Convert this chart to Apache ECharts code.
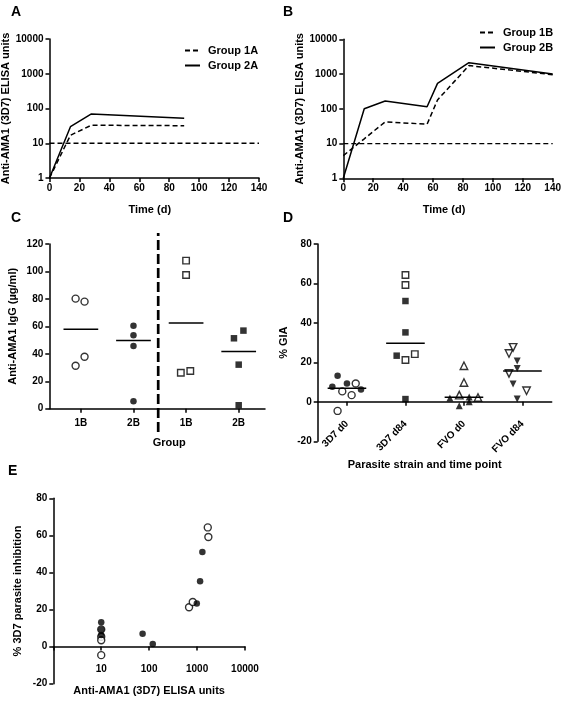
<!DOCTYPE html>
<html><head><meta charset="utf-8">
<script src="https://cdn.jsdelivr.net/npm/echarts@6/dist/echarts.min.js"></script>
<style>html,body{margin:0;padding:0;background:#fff}#c{width:563px;height:702px}</style>
</head><body><div id="c"></div>
<script>
// ---------- Panel A ----------
const daysA = [0, 14, 28, 90];
const group1A = [1, 17, 33, 32];
const group2A = [1, 30, 70, 52];
// ---------- Panel B ----------
const daysB = [0, 14, 28, 56, 63, 84, 140];
const group1B = [4.5, 13.7, 42, 36, 180, 1750, 960];
const group2B = [1, 100, 167, 115, 540, 2130, 1000];
const cutoffDays = [0, 140];
const cutoffValue = 10;
const timeTicks = [0, 20, 40, 60, 80, 100, 120, 140];
// ---------- Panel C ----------
const groupsC = ['1B', '2B', '1B', '2B'];
const c1Bcircle = [80.2, 78, 31.3, 37.9];
const c1BcircleJit = [-0.1, 0.07, -0.1, 0.07];
const c2Bcircle = [60.5, 53.5, 45.7, 5.4];
const c2BcircleJit = [0, 0, 0, 0];
const c1Bsquare = [107.9, 97.4, 26.2, 27.5];
const c1BsquareJit = [0, 0, -0.1, 0.08];
const c2Bsquare = [51.3, 56.9, 32.1, 2.5];
const c2BsquareJit = [-0.09, 0.09, 0, 0];
const separatorC = 1.47;
// ---------- Panel D ----------
const strainsD = ['3D7 d0', '3D7 d84', 'FVO d0', 'FVO d84'];
const d3D7d0Open = [5.3, 9.3, 3.4, -4.6];
const d3D7d0OpenJit = [-0.08, 0.15, 0.08, -0.16];
const d3D7d0Filled = [13.2, 9.3, 7.6, 6.3];
const d3D7d0FilledJit = [-0.16, 0, -0.25, 0.24];
const d3D7d84Open = [64.3, 59.2, 21.2, 24.2];
const d3D7d84OpenJit = [0, 0, 0, 0.16];
const d3D7d84Filled = [51.1, 35.2, 23.4, 1.4];
const d3D7d84FilledJit = [0, 0, -0.15, 0];
const dFVOd0Open = [18.3, 9.8, 3.4, 2.2];
const dFVOd0OpenJit = [0, 0, -0.08, 0.24];
const dFVOd0Filled = [2.0, -2.0, 2.5, 0];
const dFVOd0FilledJit = [-0.24, -0.08, 0.09, 0.09];
const dFVOd84Open = [24.5, 27.6, 14.4, 5.6];
const dFVOd84OpenJit = [-0.23, -0.16, -0.23, 0.07];
const dFVOd84Filled = [20.7, 16.9, 9.0, 1.4];
const dFVOd84FilledJit = [-0.09, -0.09, -0.16, -0.09];
// ---------- Panel E ----------
const eOpenX = [10, 10, 10, 10, 680, 813, 1672, 1720];
const eOpenY = [5.3, 9.3, 3.4, -4.6, 21.2, 24.1, 64.3, 59.1];
const eFilledX = [10, 10, 10, 73, 986, 1155, 1290, 119];
const eFilledY = [13.2, 9.3, 6.3, 7.0, 23.2, 35.2, 51.0, 1.4];
const eTicks = [10, 100, 1000, 10000];

const FONT = '"Liberation Sans", Arial, Helvetica, sans-serif';
const BLACK = '#000';
const zip = (xs, ys) => xs.map((x, i) => [x, ys[i]]);
const median = a => { const s = a.slice().sort((p, q) => p - q); const n = s.length; return n % 2 ? s[(n - 1) / 2] : (s[n / 2 - 1] + s[n / 2]) / 2; };
const jitter = (pos, vals, jit) => vals.map((v, i) => [pos + jit[i], v]);

function axis(extra) {
  const base = {
    axisLine: { show: true, onZero: false, lineStyle: { color: BLACK, width: 1.5 } },
    axisTick: { show: true, inside: false, length: 4, lineStyle: { color: BLACK, width: 1.5 } },
    axisLabel: { color: BLACK, fontSize: 10, fontWeight: 'bold', fontFamily: FONT, margin: 6 },
    splitLine: { show: false },
    nameLocation: 'middle',
    nameTextStyle: { color: BLACK, fontSize: 11, fontWeight: 'bold', fontFamily: FONT }
  };
  const out = Object.assign({}, base, extra);
  ['axisLine', 'axisTick', 'axisLabel', 'nameTextStyle'].forEach(k => {
    if (extra[k]) out[k] = Object.assign({}, base[k], extra[k]);
  });
  return out;
}

const openStyle = { color: '#fff', borderColor: BLACK, borderWidth: 1.4 };
const filledStyle = { color: BLACK, borderColor: BLACK, borderWidth: 0 };
function scatter(name, xi, data, symbol, open, size, rotate) {
  return { type: 'scatter', name, xAxisIndex: xi, yAxisIndex: xi, data, symbol,
    symbolSize: size, symbolRotate: rotate || 0,
    itemStyle: open ? openStyle : filledStyle, silent: true, z: open ? 3 : 4 };
}
function medLine(xi, pos, vals) {
  const m = median(vals);
  return { type: 'line', xAxisIndex: xi, yAxisIndex: xi, data: [[pos - 0.33, m], [pos + 0.33, m]],
    symbol: 'none', color: BLACK, lineStyle: { color: BLACK, width: 1.5 }, silent: true, z: 5 };
}
function line(name, xi, data, dashed, w) {
  return { type: 'line', name, xAxisIndex: xi, yAxisIndex: xi, data, symbol: 'none', silent: true,
    color: BLACK, itemStyle: { color: BLACK },
    lineStyle: { color: BLACK, width: w || 1.5, type: dashed ? [5, 3] : 'solid' }, z: 2 };
}

const letter = (t, l, tp) => ({ text: t, left: l, top: tp, padding: 0,
  textStyle: { fontSize: 14, fontWeight: 'bold', fontFamily: FONT, color: BLACK } });

const logFmt = v => String(Math.round(v));
const legendCommon = { orient: 'vertical', padding: 0, itemWidth: 15, itemHeight: 10, itemGap: 4, itemStyle: { opacity: 0 },
  textStyle: { fontSize: 11, fontWeight: 'bold', fontFamily: FONT, color: BLACK, padding: [0, 0, 0, 3] }, selectedMode: false };

const option = {
  animation: false,
  backgroundColor: '#fff',
  title: [letter('A', 11, 5), letter('B', 283, 5), letter('C', 11, 211), letter('D', 283, 211), letter('E', 8, 464)],
  legend: [
    Object.assign({ data: ['Group 1A', 'Group 2A'], left: 184, top: 45 }, legendCommon),
    Object.assign({ data: ['Group 1B', 'Group 2B'], left: 479, top: 27 }, legendCommon)
  ],
  grid: [
    { left: 49.5, top: 39, width: 209.5, height: 139, outerBoundsMode: 'none', containLabel: false },
    { left: 343.3, top: 39.3, width: 209.4, height: 139, outerBoundsMode: 'none', containLabel: false },
    { left: 49.3, top: 244, width: 215.7, height: 164.7, outerBoundsMode: 'none', containLabel: false },
    { left: 317.7, top: 244, width: 234, height: 197.3, outerBoundsMode: 'none', containLabel: false },
    { left: 53.3, top: 498.3, width: 191.7, height: 185.4, outerBoundsMode: 'none', containLabel: false }
  ],
  xAxis: [
    axis({ gridIndex: 0, type: 'value', min: timeTicks[0], max: timeTicks[timeTicks.length - 1], interval: 20,
      name: 'Time (d)', nameGap: 26, nameTextStyle: { padding: [0, 9, 0, 0] }, axisLabel: { margin: 5 } }),
    axis({ gridIndex: 1, type: 'value', min: timeTicks[0], max: timeTicks[timeTicks.length - 1], interval: 20,
      name: 'Time (d)', nameGap: 26, nameTextStyle: { padding: [0, 8, 0, 0] }, axisLabel: { margin: 5 } }),
    axis({ gridIndex: 2, type: 'value', min: -0.6, max: 3.5,
      axisLabel: { customValues: [0, 1, 2, 3], formatter: v => groupsC[Math.round(v)], margin: 10 },
      axisTick: { customValues: [0, 1, 2, 3] },
      name: 'Group', nameGap: 29, nameTextStyle: { padding: [0, 0, 0, 24] } }),
    axis({ gridIndex: 3, type: 'value', min: -0.5, max: 3.5,
      axisLine: { onZero: true },
      axisLabel: { customValues: [0, 1, 2, 3], formatter: v => strainsD[Math.round(v)], rotate: 45, margin: -19 },
      axisTick: { customValues: [0, 1, 2, 3] },
      name: 'Parasite strain and time point', nameGap: 18, nameTextStyle: { padding: [0, 20, 0, 0] } }),
    axis({ gridIndex: 4, type: 'log', logBase: 10, min: 1, max: eTicks[eTicks.length - 1],
      axisLine: { onZero: true },
      axisLabel: { formatter: v => (eTicks.indexOf(Math.round(v)) >= 0 ? String(Math.round(v)) : ''), margin: -19 },
      name: 'Anti-AMA1 (3D7) ELISA units', nameGap: 2 })
  ],
  yAxis: [
    axis({ gridIndex: 0, type: 'log', logBase: 10, min: 1, max: 10000, axisLabel: { formatter: logFmt },
      name: 'Anti-AMA1 (3D7) ELISA units', nameGap: 34 }),
    axis({ gridIndex: 1, type: 'log', logBase: 10, min: 1, max: 10000, axisLabel: { formatter: logFmt },
      name: 'Anti-AMA1 (3D7) ELISA units', nameGap: 33 }),
    axis({ gridIndex: 2, type: 'value', min: 0, max: 120, interval: 20,
      name: 'Anti-AMA1 IgG (µg/ml)', nameGap: 31 }),
    axis({ gridIndex: 3, type: 'value', min: -20, max: 80, interval: 20,
      name: '% GIA', nameGap: 28 }),
    axis({ gridIndex: 4, type: 'value', min: -20, max: 80, interval: 20,
      name: '% 3D7 parasite inhibition', nameGap: 30 })
  ],
  series: [
    line('Group 1A', 0, zip(daysA, group1A), true),
    line('Group 2A', 0, zip(daysA, group2A), false),
    line('cutoffA', 0, cutoffDays.map(d => [d, cutoffValue]), true, 1.3),
    line('Group 1B', 1, zip(daysB, group1B), true),
    line('Group 2B', 1, zip(daysB, group2B), false),
    line('cutoffB', 1, cutoffDays.map(d => [d, cutoffValue]), true, 1.3),
    // C
    scatter('c1Bc', 2, jitter(0, c1Bcircle, c1BcircleJit), 'circle', true, 7),
    scatter('c2Bc', 2, jitter(1, c2Bcircle, c2BcircleJit), 'circle', false, 6.5),
    scatter('c1Bs', 2, jitter(2, c1Bsquare, c1BsquareJit), 'rect', true, 6.5),
    scatter('c2Bs', 2, jitter(3, c2Bsquare, c2BsquareJit), 'rect', false, 6.5),
    medLine(2, 0, c1Bcircle), medLine(2, 1, c2Bcircle), medLine(2, 2, c1Bsquare), medLine(2, 3, c2Bsquare),
    { type: 'line', xAxisIndex: 2, yAxisIndex: 2, clip: false, symbol: 'none', silent: true, color: BLACK,
      data: [[separatorC, -17], [separatorC, 128]], lineStyle: { color: BLACK, width: 2.7, type: [10, 4] } },
    // D
    scatter('d1o', 3, jitter(0, d3D7d0Open, d3D7d0OpenJit), 'circle', true, 7),
    scatter('d1f', 3, jitter(0, d3D7d0Filled, d3D7d0FilledJit), 'circle', false, 6.5),
    scatter('d2o', 3, jitter(1, d3D7d84Open, d3D7d84OpenJit), 'rect', true, 6.5),
    scatter('d2f', 3, jitter(1, d3D7d84Filled, d3D7d84FilledJit), 'rect', false, 6.5),
    scatter('d3o', 3, jitter(2, dFVOd0Open, dFVOd0OpenJit), 'triangle', true, 7.5),
    scatter('d3f', 3, jitter(2, dFVOd0Filled, dFVOd0FilledJit), 'triangle', false, 7),
    scatter('d4o', 3, jitter(3, dFVOd84Open, dFVOd84OpenJit), 'triangle', true, 7.5, 180),
    scatter('d4f', 3, jitter(3, dFVOd84Filled, dFVOd84FilledJit), 'triangle', false, 7, 180),
    medLine(3, 0, d3D7d0Open.concat(d3D7d0Filled)),
    medLine(3, 1, d3D7d84Open.concat(d3D7d84Filled)),
    medLine(3, 2, dFVOd0Open.concat(dFVOd0Filled)),
    medLine(3, 3, dFVOd84Open.concat(dFVOd84Filled)),
    // E
    scatter('eo', 4, zip(eOpenX, eOpenY), 'circle', true, 7),
    scatter('ef', 4, zip(eFilledX, eFilledY), 'circle', false, 6.5)
  ]
};
const chart = echarts.init(document.getElementById('c'), null, { renderer: 'canvas' });
chart.setOption(option);
</script></body></html>
